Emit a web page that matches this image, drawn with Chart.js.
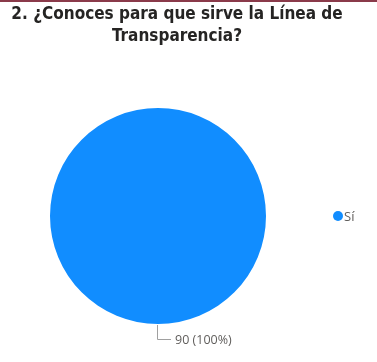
<!DOCTYPE html>
<html><head><meta charset="utf-8">
<script src="https://cdn.jsdelivr.net/npm/chart.js@4"></script>
<style>
html,body{margin:0;padding:0;background:#fff;}
#wrap{position:relative;width:377px;height:362px;}
#topline{position:absolute;left:0;top:0;width:377px;height:2px;background:#8a3a4a;}
canvas{position:absolute;left:0;top:0;}
</style></head><body>
<div id="wrap"><canvas id="c" width="377" height="362"></canvas><div id="topline"></div></div>
<script>
const titleLines = ["2. ¿Conoces para que sirve la Línea de", "Transparencia?"];
const categories = ["Sí"];
const values = [90];
const colors = ["#118DFF"];

const overlay = {
  id:'overlay',
  afterDraw(chart){
    const ctx = chart.ctx;
    ctx.save();
    // title
    ctx.fillStyle = '#252423';
    ctx.font = 'bold 17px "DejaVu Sans Condensed", "Liberation Sans Narrow", sans-serif';
    ctx.textAlign = 'center';
    ctx.textBaseline = 'alphabetic';
    titleLines.forEach((t,i)=>ctx.fillText(t, 177, 19 + i*22));
    // data label with leader
    const meta = chart.getDatasetMeta(0);
    const total = values.reduce((a,b)=>a+b,0);
    meta.data.forEach((arc,i)=>{
      const p = arc.getProps(['x','y','outerRadius'],true);
      const bx = p.x, by = p.y + p.outerRadius;
      ctx.strokeStyle = '#a0a0a0';
      ctx.lineWidth = 1;
      ctx.beginPath();
      ctx.moveTo(bx-0.5, by+1);
      ctx.lineTo(bx-0.5, by+15.5);
      ctx.lineTo(bx+13, by+15.5);
      ctx.stroke();
      ctx.fillStyle = '#605E5C';
      ctx.font = '12.5px "Segoe UI", "Open Sans", sans-serif';
      ctx.textAlign = 'left';
      ctx.textBaseline = 'middle';
      const pct = Math.round(values[i]/total*100);
      ctx.fillText(values[i] + ' (' + pct + '%)', bx+17, by+16);
    });
    // legend
    const ca = chart.chartArea;
    categories.forEach((c,i)=>{
      const lx = ca.right + 72, ly = (ca.top+ca.bottom)/2 + i*18;
      ctx.fillStyle = colors[i];
      ctx.beginPath(); ctx.arc(lx, ly, 5, 0, Math.PI*2); ctx.fill();
      ctx.fillStyle = '#605E5C';
      ctx.font = '13px "Segoe UI", "Open Sans", sans-serif';
      ctx.textAlign='left'; ctx.textBaseline='middle';
      ctx.fillText(c, lx+6, ly+1);
    });
    ctx.restore();
  }
};

new Chart(document.getElementById('c'), {
  type:'pie',
  data:{labels:categories, datasets:[{data:values, backgroundColor:colors, borderWidth:0}]},
  options:{
    responsive:false, animation:false,
    layout:{padding:{top:108,left:50,right:111,bottom:38}},
    plugins:{legend:{display:false}, tooltip:{enabled:false}, title:{display:false}}
  },
  plugins:[overlay]
});
</script>
</body></html>
